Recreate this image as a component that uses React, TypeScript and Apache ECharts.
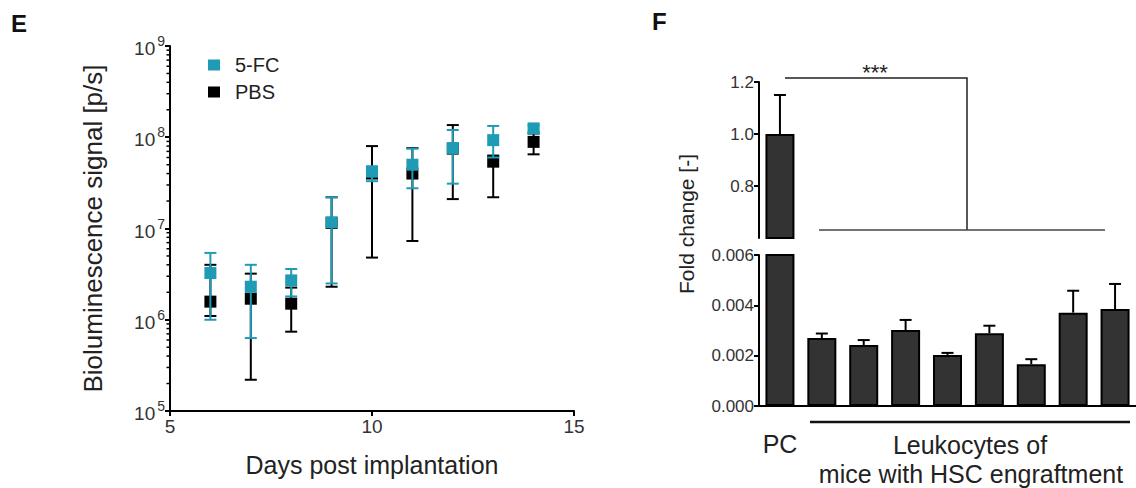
import React, { useEffect, useRef } from "react";
import * as echarts from "echarts";

// ---------- Panel E data ----------
const days = [6, 7, 8, 9, 10, 11, 12, 13, 14];
const fcMean = [3.25e6, 2.3e6, 2.7e6, 1.17e7, 4.2e7, 5.0e7, 7.6e7, 9.3e7, 1.25e8];
const fcLow = [1.0e6, 6.3e5, 1.8e6, 2.5e6, 3.3e7, 2.76e7, 3.1e7, 6.0e7, 1.15e8];
const fcHigh = [5.4e6, 4.0e6, 3.6e6, 2.2e7, 4.8e7, 7.5e7, 1.2e8, 1.33e8, 1.35e8];
const pbsMean = [1.58e6, 1.7e6, 1.5e6, 1.15e7, 4.0e7, 4.0e7, 7.5e7, 5.4e7, 8.9e7];
const pbsLow = [1.1e6, 2.2e5, 7.4e5, 2.3e6, 4.8e6, 7.3e6, 2.1e7, 2.2e7, 6.5e7];
const pbsHigh = [4.0e6, 3.2e6, 2.25e6, 2.2e7, 8.0e7, 7.6e7, 1.36e8, 6.3e7, 1.1e8];
const seriesNames = ["5-FC", "PBS"];
const logDecades = [1e5, 1e6, 1e7, 1e8];
const minorMultipliers = [2, 3, 4, 5, 6, 7, 8, 9];

// ---------- Panel F data ----------
const fCategories = ["PC", "L1", "L2", "L3", "L4", "L5", "L6", "L7", "L8"];
const fValues = [1.0, 0.0027, 0.00242, 0.00302, 0.00203, 0.00289, 0.00166, 0.00371, 0.00385];
const fErrors = [0.15, 0.00018, 0.0002, 0.0004, 0.00008, 0.0003, 0.0002, 0.00087, 0.001];

const FONT = '"Liberation Sans", Arial, Helvetica, sans-serif';
const CYAN = "#1f9bb5";
const TEXT = "#222";

function errorBarRenderer(color: string, cap: number, lw: number, oneSided: boolean) {
  return (params: any, api: any) => {
    const x = api.value(0);
    const lo = api.value(1);
    const hi = api.value(2);
    const pLo = api.coord([x, lo]);
    const pHi = api.coord([x, hi]);
    const children: any[] = [
      { type: "line", shape: { x1: pLo[0], y1: pLo[1], x2: pHi[0], y2: pHi[1] }, style: { stroke: color, lineWidth: lw } },
      { type: "line", shape: { x1: pHi[0] - cap / 2, y1: pHi[1], x2: pHi[0] + cap / 2, y2: pHi[1] }, style: { stroke: color, lineWidth: lw } },
    ];
    if (!oneSided) {
      children.push({ type: "line", shape: { x1: pLo[0] - cap / 2, y1: pLo[1], x2: pLo[0] + cap / 2, y2: pLo[1] }, style: { stroke: color, lineWidth: lw } });
    }
    return { type: "group", children };
  };
}

export default function App() {
  const ref = useRef<HTMLDivElement>(null);
  useEffect(() => {
    if (!ref.current) return;
    const chart = echarts.init(ref.current, undefined, { renderer: "svg" });

    const minorTicks: number[] = [];
    logDecades.forEach((d) => minorMultipliers.forEach((m) => minorTicks.push(d * m)));

    const axisLine = { show: true, lineStyle: { color: "#000", width: 2 } };
    const axisTick = { show: true, length: 5, inside: false, lineStyle: { color: "#000", width: 2 } };

    const option: any = {
      animation: false,
      textStyle: { fontFamily: FONT },
      legend: {
        data: seriesNames,
        orient: "vertical",
        left: 203,
        top: 50,
        icon: "rect",
        itemWidth: 12,
        itemHeight: 11,
        itemGap: 7,
        textStyle: { fontSize: 20, color: TEXT, fontFamily: FONT, padding: [0, 0, 0, 10] },
      },
      grid: [
        { left: 170, top: 46, width: 404, height: 365, containLabel: false, outerBoundsMode: "none" },
        { left: 759, top: 82, width: 377, height: 156, containLabel: false, outerBoundsMode: "none" },
        { left: 759, top: 255, width: 377, height: 151, containLabel: false, outerBoundsMode: "none" },
      ],
      xAxis: [
        {
          gridIndex: 0,
          type: "value",
          min: 5,
          max: 15,
          interval: 5,
          axisLine,
          axisTick,
          splitLine: { show: false },
          axisLabel: { fontSize: 19, color: "#333", margin: 6, fontFamily: FONT },
          name: "Days post implantation",
          nameLocation: "middle",
          nameGap: 41,
          nameTextStyle: { fontSize: 25, color: TEXT, fontFamily: FONT },
        },
        { gridIndex: 1, type: "category", data: fCategories, show: false },
        {
          gridIndex: 2,
          type: "category",
          data: fCategories,
          axisLine,
          axisTick: { show: false },
          axisLabel: { show: false },
        },
      ],
      yAxis: [
        {
          gridIndex: 0,
          type: "log",
          logBase: 10,
          min: 1e5,
          max: 1e9,
          axisLine,
          axisTick,
          splitLine: { show: false },
          axisLabel: {
            margin: 5,
            formatter: (v: number) => `{b|10}{s|${Math.round(Math.log10(v))}}`,
            rich: {
              b: { fontSize: 19, color: "#333", fontFamily: FONT, lineHeight: 24, verticalAlign: "bottom" },
              s: { fontSize: 14, color: "#333", fontFamily: FONT, lineHeight: 24, verticalAlign: "top", padding: [0, 0, 0, 2] },
            },
          },
          name: "Bioluminescence signal [p/s]",
          nameLocation: "middle",
          nameGap: 64,
          nameRotate: 90,
          nameTextStyle: { fontSize: 26, color: TEXT, fontFamily: FONT },
        },
        {
          gridIndex: 1,
          type: "value",
          min: 0.6,
          max: 1.2,
          interval: 0.2,
          axisLine,
          axisTick,
          splitLine: { show: false },
          axisLabel: {
            showMinLabel: false,
            fontSize: 17,
            color: "#333",
            margin: 5,
            fontFamily: FONT,
            formatter: (v: number) => v.toFixed(1),
          },
        },
        {
          gridIndex: 2,
          type: "value",
          min: 0,
          max: 0.006,
          interval: 0.002,
          axisLine,
          axisTick,
          splitLine: { show: false },
          axisLabel: { fontSize: 17, color: "#333", margin: 5, fontFamily: FONT, formatter: (v: number) => v.toFixed(3) },
        },
      ],
      series: [
        {
          type: "custom",
          name: "minorTicks",
          xAxisIndex: 0,
          yAxisIndex: 0,
          silent: true,
          clip: false,
          data: minorTicks.map((v) => [5, v]),
          renderItem: (params: any, api: any) => {
            const p = api.coord([api.value(0), api.value(1)]);
            return { type: "line", shape: { x1: p[0] - 3.5, y1: p[1], x2: p[0], y2: p[1] }, style: { stroke: "#000", lineWidth: 1.5 } };
          },
          z: 1,
        },
        {
          type: "custom",
          name: "PBS err",
          xAxisIndex: 0,
          yAxisIndex: 0,
          clip: false,
          data: days.map((d, i) => [d, pbsLow[i], pbsHigh[i]]),
          renderItem: errorBarRenderer("#000", 12, 2, false),
          z: 2,
        },
        {
          type: "scatter",
          name: "PBS",
          xAxisIndex: 0,
          yAxisIndex: 0,
          symbol: "rect",
          symbolSize: 12,
          itemStyle: { color: "#000", opacity: 1 },
          data: days.map((d, i) => [d, pbsMean[i]]),
          z: 3,
        },
        {
          type: "custom",
          name: "5-FC err",
          xAxisIndex: 0,
          yAxisIndex: 0,
          clip: false,
          data: days.map((d, i) => [d, fcLow[i], fcHigh[i]]),
          renderItem: errorBarRenderer(CYAN, 12, 2, false),
          z: 4,
        },
        {
          type: "scatter",
          name: "5-FC",
          xAxisIndex: 0,
          yAxisIndex: 0,
          symbol: "rect",
          symbolSize: 12,
          itemStyle: { color: CYAN, opacity: 1 },
          data: days.map((d, i) => [d, fcMean[i]]),
          z: 5,
        },
        {
          type: "bar",
          name: "fTop",
          xAxisIndex: 1,
          yAxisIndex: 1,
          barWidth: 29,
          clip: true,
          data: fValues,
          itemStyle: { color: "#333", borderColor: "#000", borderWidth: 2 },
        },
        {
          type: "bar",
          name: "fBot",
          xAxisIndex: 2,
          yAxisIndex: 2,
          barWidth: 29,
          clip: true,
          data: fValues,
          itemStyle: { color: "#333", borderColor: "#000", borderWidth: 2 },
        },
        {
          type: "custom",
          name: "fTopErr",
          xAxisIndex: 1,
          yAxisIndex: 1,
          clip: true,
          data: fValues.map((v, i) => [i, v, v + fErrors[i]]),
          renderItem: errorBarRenderer("#000", 12, 2, true),
          z: 3,
        },
        {
          type: "custom",
          name: "fBotErr",
          xAxisIndex: 2,
          yAxisIndex: 2,
          clip: true,
          data: fValues.map((v, i) => [i, v, v + fErrors[i]]),
          renderItem: errorBarRenderer("#000", 12, 2, true),
          z: 3,
        },
      ],
      graphic: [
        { type: "text", x: 11, y: 11, style: { text: "E", fontSize: 24, fontWeight: "bold", fill: "#111", fontFamily: FONT } },
        { type: "text", x: 652, y: 9, style: { text: "F", fontSize: 24, fontWeight: "bold", fill: "#111", fontFamily: FONT } },
        {
          type: "text",
          x: 686,
          y: 224,
          rotation: Math.PI / 2,
          style: { text: "Fold change [-]", fontSize: 21, fill: TEXT, fontFamily: FONT, align: "center", verticalAlign: "middle" },
        },
        { type: "text", x: 780, y: 444, style: { text: "PC", fontSize: 25, fill: TEXT, fontFamily: FONT, align: "center", verticalAlign: "middle" } },
        { type: "text", x: 970, y: 445, style: { text: "Leukocytes of", fontSize: 25, fill: TEXT, fontFamily: FONT, align: "center", verticalAlign: "middle" } },
        { type: "text", x: 971, y: 474, style: { text: "mice with HSC engraftment", fontSize: 25, fill: TEXT, fontFamily: FONT, align: "center", verticalAlign: "middle" } },
        { type: "text", x: 875, y: 72, style: { text: "***", fontSize: 22, fill: TEXT, fontFamily: FONT, align: "center", verticalAlign: "middle" } },
        { type: "polyline", shape: { points: [[785, 78], [967, 78], [967, 230]] }, style: { stroke: "#222", lineWidth: 1.5, fill: null } },
        { type: "line", shape: { x1: 819, y1: 230, x2: 1105, y2: 230 }, style: { stroke: "#444", lineWidth: 1.5 } },
        { type: "line", shape: { x1: 810, y1: 422, x2: 1130, y2: 422 }, style: { stroke: "#111", lineWidth: 2.5 } },
      ],
    };
    chart.setOption(option);
    return () => chart.dispose();
  }, []);
  return <div ref={ref} style={{ position: "fixed", left: 0, top: 0, width: 1136, height: 488, background: "#fff" }} />;
}
